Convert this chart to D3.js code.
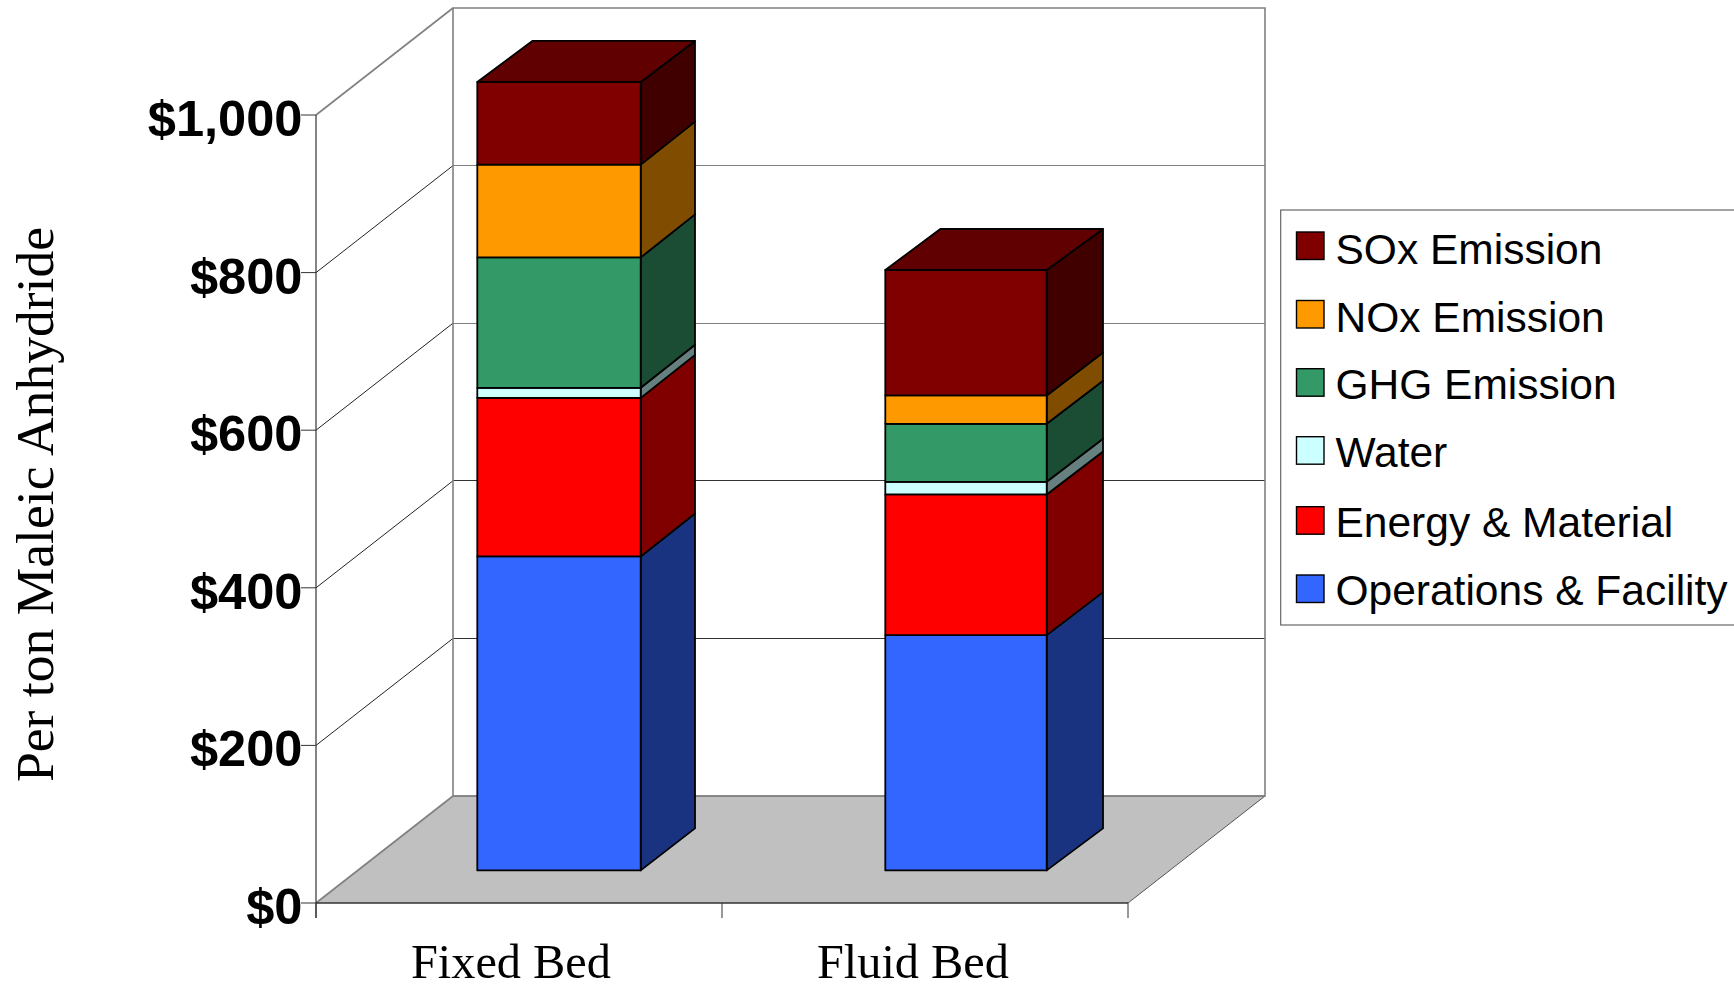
<!DOCTYPE html>
<html><head><meta charset="utf-8">
<script src="https://cdn.jsdelivr.net/npm/d3@7/dist/d3.min.js"></script>
<style>html,body{margin:0;padding:0;background:#fff;overflow:hidden}svg{display:block}</style>
</head><body><svg id="c" width="1734" height="988"></svg>
<script>
const categories = ["Fixed Bed", "Fluid Bed"];
const seriesNames = ["Operations & Facility", "Energy & Material", "Water", "GHG Emission", "NOx Emission", "SOx Emission"];
const operations = [398.4, 298.6];
const energy = [201.3, 178.5];
const water = [12.7, 16];
const ghg = [165.5, 73.6];
const nox = [117.8, 36];
const sox = [104.9, 159.2];
const seriesValues = [operations, energy, water, ghg, nox, sox];
const frontColors = ["#3366ff", "#ff0000", "#ccffff", "#339966", "#ff9900", "#800000"];
const sideColors = ["#1a3380", "#800000", "#668080", "#1a4d33", "#804c00", "#400000"];
const topColor = "#600000";
const yTicks = [0, 200, 400, 600, 800, 1000];

const svg = d3.select("#c");
const y = d3.scaleLinear().domain([0, 1000]).range([903, 115]);
const x = d3.scaleBand().domain(categories).range([316, 1128]);
const barLeft = d3.scalePoint().domain(categories).range([477.3, 885.3]);
const barRight = d3.scalePoint().domain(categories).range([640.7, 1046.7]);
const barBackRight = d3.scalePoint().domain(categories).range([695, 1103]);
const depthX = 137, depthY = 107, barLift = 32.6, barDepthX = 55;
const line = d3.line();
const poly = p => line(p) + "Z";
const money = d3.format("$,");

// walls & floor
const x0 = x.range()[0], x1 = x.range()[1];
svg.append("path").attr("d", poly([[x0, y(0)], [x1, y(0)], [x1 + depthX, y(0) - depthY], [x0 + depthX, y(0) - depthY]]))
  .attr("fill", "#c0c0c0").attr("stroke", "none");

// back wall grid
svg.append("g").selectAll("line").data(yTicks.filter(t => t > 0 && t < 1000)).join("line")
  .attr("x1", x0 + depthX).attr("x2", x1 + depthX)
  .attr("y1", t => y(t) - depthY).attr("y2", t => y(t) - depthY)
  .attr("stroke", t => t > 400 ? "#808080" : "#333").attr("stroke-width", 1).attr("shape-rendering", "crispEdges");
// side wall diagonals
svg.append("g").selectAll("line").data(yTicks.filter(t => t > 0)).join("line")
  .attr("x1", x0).attr("y1", t => y(t))
  .attr("x2", x0 + depthX).attr("y2", t => y(t) - depthY)
  .attr("stroke", t => t === 1000 ? "#808080" : "#222").attr("stroke-width", t => t === 1000 ? 1.6 : 1);
// back wall frame
svg.append("path").attr("d", poly([[x0 + depthX, y(0) - depthY], [x0 + depthX, y(1000) - depthY], [x1 + depthX, y(1000) - depthY], [x1 + depthX, y(0) - depthY]]))
  .attr("fill", "none").attr("stroke", "#808080").attr("stroke-width", 1.6);
// floor edges
svg.append("path").attr("d", line([[x0, y(0)], [x0 + depthX, y(0) - depthY]])).attr("stroke", "#808080").attr("stroke-width", 1.6).attr("fill", "none");
svg.append("path").attr("d", line([[x1, y(0)], [x1 + depthX, y(0) - depthY]])).attr("stroke", "#555").attr("stroke-width", 1).attr("fill", "none");
svg.append("path").attr("d", line([[x0 + depthX, y(0) - depthY], [x1 + depthX, y(0) - depthY]])).attr("stroke", "#808080").attr("stroke-width", 1.6).attr("fill", "none");

// axes
svg.append("line").attr("x1", x0).attr("x2", x0).attr("y1", y(1000)).attr("y2", y(0) + 15).attr("stroke", "#333").attr("stroke-width", 1.2);
svg.append("line").attr("x1", x0).attr("x2", x1).attr("y1", y(0)).attr("y2", y(0)).attr("stroke", "#333").attr("stroke-width", 1.4);
svg.append("g").selectAll("line").data(yTicks).join("line")
  .attr("x1", x0 - 15).attr("x2", x0).attr("y1", t => y(t)).attr("y2", t => y(t)).attr("stroke", "#333").attr("stroke-width", 1);
svg.append("g").selectAll("line").data([x0, x0 + x.bandwidth(), x1]).join("line")
  .attr("x1", d => d).attr("x2", d => d).attr("y1", y(0)).attr("y2", y(0) + 15).attr("stroke", "#333").attr("stroke-width", 1);
svg.append("g").selectAll("text").data(yTicks).join("text")
  .attr("x", 302.5).attr("y", t => y(t) + 21)
  .attr("text-anchor", "end").attr("font-family", "Liberation Sans").attr("font-weight", "bold").attr("font-size", 50.6)
  .text(t => money(t));
svg.append("g").selectAll("text").data(categories).join("text")
  .attr("x", c => x(c) + 95).attr("y", 978)
  .attr("font-family", "Liberation Serif").attr("font-size", 48.3).text(c => c);
svg.append("text").attr("transform", "translate(52.7,504.5) rotate(-90)")
  .attr("text-anchor", "middle").attr("font-family", "Liberation Serif").attr("font-size", 53.6)
  .text("Per ton Maleic Anhydride");

// bars
const rows = categories.map((c, i) => {
  const r = { category: c };
  seriesNames.forEach((s, j) => r[s] = seriesValues[j][i]);
  return r;
});
const stacked = d3.stack().keys(seriesNames)(rows);
const by = v => y(v) - barLift;
const backLift = (v, top) => top ? 41 : (v === 0 ? 42 : 43);
const bars = svg.append("g").attr("stroke", "#000").attr("stroke-width", 1.8).attr("stroke-linejoin", "round");
stacked.forEach((layer, j) => {
  const isTop = j === seriesNames.length - 1;
  layer.forEach(d => {
    const c = d.data.category;
    const l = barLeft(c), r = barRight(c), b = barBackRight(c);
    const backTop = by(d[1]) - backLift(d[1], isTop), backBottom = by(d[0]) - backLift(d[0], false);
    bars.append("path").attr("fill", sideColors[j])
      .attr("d", poly([[r, by(d[1])], [b, backTop], [b, backBottom], [r, by(d[0])]]));
    bars.append("path").attr("fill", frontColors[j])
      .attr("d", poly([[l, by(d[1])], [r, by(d[1])], [r, by(d[0])], [l, by(d[0])]]));
    if (isTop) {
      bars.append("path").attr("fill", topColor)
        .attr("d", poly([[l, by(d[1])], [l + barDepthX, backTop], [b, backTop], [r, by(d[1])]]));
    }
  });
});

// legend
const legendOrder = seriesNames.map((s, i) => i).reverse();
const legendBaselines = [264, 331.5, 399.3, 466.7, 537.2, 605];
const legendSwatchTops = [232, 300.5, 368.7, 436.7, 506.7, 575];
svg.append("rect").attr("x", 1280.7).attr("y", 210).attr("width", 480).attr("height", 415)
  .attr("fill", "#fff").attr("stroke", "#666").attr("stroke-width", 1.2);
const lg = svg.append("g").selectAll("g").data(legendOrder).join("g");
lg.append("rect").attr("x", 1296.5).attr("y", (d, i) => legendSwatchTops[i]).attr("width", 27.5).attr("height", 27.5)
  .attr("fill", d => frontColors[d]).attr("stroke", "#000").attr("stroke-width", 1.4);
lg.append("text").attr("x", 1335.5).attr("y", (d, i) => legendBaselines[i])
  .attr("font-family", "Liberation Sans").attr("font-size", 42.5).text(d => seriesNames[d]);
</script></body></html>
